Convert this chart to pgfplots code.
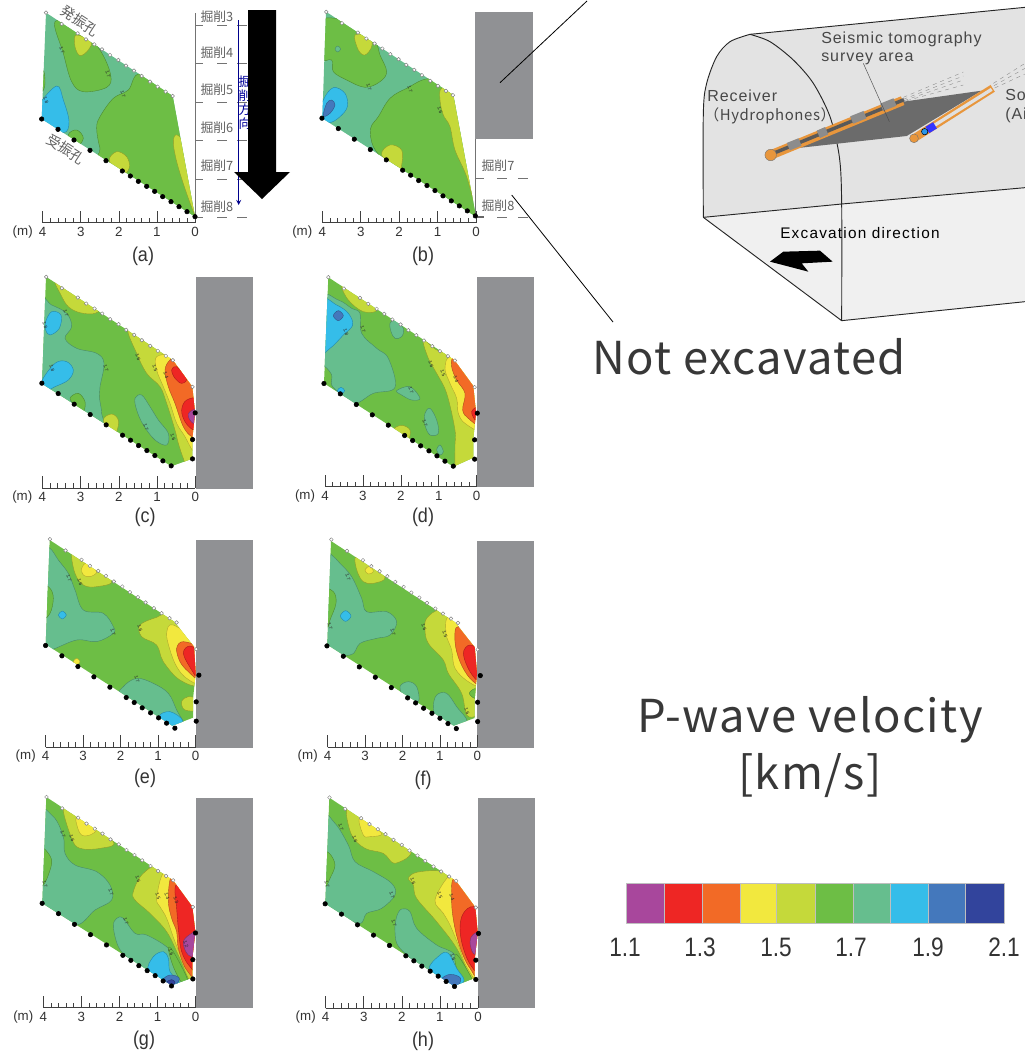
\documentclass[border=0pt]{standalone}
\usepackage{fontspec}
\usepackage{xfp}
\usepackage{pgfplots}
\usepackage{pgfplotstable}
\pgfplotsset{compat=1.18}
\setmainfont{Liberation Sans}
\newfontfamily\cjk{Noto Sans CJK JP}
\newfontfamily\cjkw[LetterSpace=3]{Noto Sans CJK JP}
\newfontfamily\cjkh[LetterSpace=4]{Noto Sans CJK JP}
\newfontfamily\dsans[LetterSpace=6]{Liberation Sans}
\newfontfamily\dsanb[LetterSpace=8]{Liberation Sans}
\definecolor{cP}{HTML}{A8479C}
\definecolor{cR}{HTML}{EE2624}
\definecolor{cO}{HTML}{F26A26}
\definecolor{cY}{HTML}{F2E83E}
\definecolor{cL}{HTML}{C5D93A}
\definecolor{cG}{HTML}{6DBE45}
\definecolor{cT}{HTML}{66BE8E}
\definecolor{cC}{HTML}{35BDE9}
\definecolor{cB}{HTML}{4478BC}
\definecolor{cN}{HTML}{32449C}
\definecolor{grayblock}{HTML}{909194}
\pgfplotstableread{
x y
138 38
185 72
233 100
258 118
283 133
306 148
330 165
355 180
378 197
402 212
425 228
450 245
473 260
497 275
518 288
}\openA
\pgfplotstableread{
x y
138 38
185 72
233 100
258 118
283 133
306 148
330 165
355 180
378 197
402 212
425 228
450 245
473 260
497 275
518 288
577 368
}\openC
\pgfplotstableread{
x y
125 357
174 388
222 420
270 451
318 482
367 513
391 528
415 544
440 559
464 574
488 590
513 605
537 620
561 635
585 650
}\closedA
\pgfplotstableread{
x y
125 357
174 388
222 420
270 451
318 482
367 513
391 528
415 544
440 559
464 574
488 590
513 605
585 446
577 526
577 584
}\closedC
\def\ox{0}\def\oy{0}
\newcommand\crop[2]{\def\ox{#1}\def\oy{#2}}
\pgfplotsset{cropped/.style={x filter/.expression={x/3+\ox},y filter/.expression={y/3+\oy}}}
% smooth contour region, in crop coordinates
\newcommand\reg[2]{\addplot[cropped,smooth cycle,tension=.6,fill=#1,draw=#1!72!black,line width=.3pt] coordinates {#2};}
% straight polygon, in crop coordinates
\newcommand\poly[3][draw=none]{\addplot[cropped,fill=#2,#1] coordinates {#3} -- cycle;}
\newcommand\lin[2][]{\addplot[cropped,#1] coordinates {#2};}
% rectangle in picture pixels
\newcommand\rect[6][draw=none]{\addplot[fill=#2,#1] coordinates {(#3,#4)(#5,#4)(#5,#6)(#3,#6)} -- cycle;}
\newcommand\sensors[4]{%
 \addplot[only marks,mark=*,mark size=1.4pt,mark options={fill=white,draw=black!50,line width=.35pt}] table[x expr=\thisrow{x}/3+#1,y expr=\thisrow{y}/3+#2] {#4};
 \addplot[only marks,mark=*,mark size=1.7pt,mark options={fill=black,draw=black}] table[x expr=\thisrow{x}/3+#1,y expr=\thisrow{y}/3+#2] {#3};}
\newcommand\cl[3]{\node[font=\fontsize{3.6}{4}\selectfont,text=black!85,inner sep=0pt,rotate=-70] at (axis cs:#1,#2) {#3};}
\newcommand\scalebar[4]{% x of 4, x of 0, y
 \def\ticks{}%
 \pgfplotsforeachungrouped \i in {0,...,20}{%
  \edef\ticks{\ticks (\fpeval{#1+\i*(#2-#1)/20},#3)(\fpeval{#1+\i*(#2-#1)/20},\fpeval{#3-((\i/5==trunc(\i/5))?12:5)})(\fpeval{#1+\i*(#2-#1)/20},nan)}}%
 \edef\temp{\noexpand\addplot[black!75,line width=.45pt,unbounded coords=jump] coordinates {(#1,#3)(#2,#3)(#1,nan) \ticks};
 \noexpand\node[scl] at (axis cs:#1,\fpeval{#3+9}) {4};
 \noexpand\node[scl] at (axis cs:\fpeval{#1+(#2-#1)/4},\fpeval{#3+9}) {3};
 \noexpand\node[scl] at (axis cs:\fpeval{#1+(#2-#1)/2},\fpeval{#3+9}) {2};
 \noexpand\node[scl] at (axis cs:\fpeval{#1+3*(#2-#1)/4},\fpeval{#3+9}) {1};
 \noexpand\node[scl] at (axis cs:#2,\fpeval{#3+9}) {0};
 \noexpand\node[scl] at (axis cs:\fpeval{#1-20},\fpeval{#3+9}) {(m)};
 }\temp}
\begin{document}
\begin{tikzpicture}[
 scl/.style={font=\fontsize{10}{10}\selectfont,text=black!80,inner sep=0pt},
 let/.style={font=\fontsize{15}{16}\selectfont,text=black!80,inner sep=0pt,xscale=.9},
 kut/.style={font=\cjk\fontsize{9.6}{10}\selectfont,text=black!62,inner sep=0pt},
 dia/.style={font=\dsans\fontsize{12}{13}\selectfont,text=black!72,inner sep=0pt,anchor=west},
 cbl/.style={font=\fontsize{20}{21}\selectfont,text=black!80,inner sep=0pt,xscale=.85,anchor=base},
 ]
\begin{axis}[scale only axis,width=768.75pt,height=790.5pt,axis lines=none,
 xmin=0,xmax=1025,ymin=0,ymax=1054,y dir=reverse,
 every axis plot/.append style={mark=none},line join=round]
\path (axis cs:0,0) -- (axis cs:1025,1054);

%% ---------- panel a
\begin{scope}
\clip (axis cs:46,12.7)--(axis cs:172.7,96)--(axis cs:195,216.7)--(axis cs:41.7,119)--cycle;
\crop{0}{0}
\rect{cT}{30}{5}{200}{225}
\reg{cG}{(165,65)(240,85)(300,150)(332,225)(320,262)(250,275)(215,245)(190,160)}
\reg{cG}{(420,222)(385,270)(340,295)(300,350)(290,385)(300,445)(320,500)(590,680)(640,500)(525,280)}
\reg{cG}{(118,210)(132,215)(134,260)(118,280)}
\reg{cG}{(205,405)(230,390)(250,415)(225,445)}
\reg{cC}{(118,315)(170,258)(190,300)(207,365)(190,398)(118,365)}
\reg{cL}{(228,105)(272,125)(265,150)(240,167)(225,140)}
\reg{cL}{(328,482)(350,455)(380,470)(388,503)(365,525)}
\reg{cL}{(532,405)(520,430)(540,520)(590,655)(600,600)(560,450)}
\end{scope}
\sensors{0}{0}{\closedA}{\openA}
\cl{62}{50}{1.7}\cl{108}{74}{1.7}\cl{123}{94}{1.7}\cl{46}{100}{1.8}
%% ---------- panel b
\begin{scope}
\clip (axis cs:326,11.7)--(axis cs:453.3,95)--(axis cs:476,216.7)--(axis cs:322.3,118.3)--cycle;
\crop{290}{0}
\rect{cT}{310}{5}{480}{225}
\reg{cG}{(90,175)(125,180)(130,215)(170,240)(225,262)(270,245)(290,215)(270,165)(255,125)(200,88)(135,55)(90,70)}
\reg{cT}{(135,147)(143,138)(152,147)(143,156)}
\reg{cG}{(420,236)(350,265)(300,295)(265,350)(242,385)(250,440)(290,490)(330,530)(560,680)(600,400)(510,270)}
\reg{cC}{(85,365)(100,300)(130,263)(165,280)(172,320)(150,350)(120,368)}
\reg{cB}{(100,348)(110,310)(125,300)(135,315)(120,340)}
\reg{cL}{(455,265)(500,280)(565,650)(530,530)(495,450)(480,380)(460,345)(450,300)}
\reg{cL}{(275,465)(300,435)(335,450)(335,495)(325,510)}
\reg{cL}{(195,105)(240,110)(245,140)(225,165)(205,150)}
\end{scope}
\sensors{280.3}{-0.8}{\closedA}{\openA}
\cl{369}{87}{1.7}\cl{410}{89}{1.7}\cl{440}{110}{1.6}
%% ---------- panel c
\begin{scope}
\clip (axis cs:46,276.7)--(axis cs:172.7,360)--(axis cs:192.3,386.7)--(axis cs:195,412.7)--(axis cs:192.3,439.3)--(axis cs:192.3,458.7)--(axis cs:171.3,466.3)--(axis cs:42,383.7)--cycle;
\crop{0}{270}
\rect{cG}{30}{270}{200}{475}
\reg{cL}{(165,30)(183,75)(205,110)(240,128)(285,130)(300,105)(220,50)}
\reg{cT}{(110,88)(155,105)(200,130)(215,170)(195,205)(230,235)(290,250)(312,280)(300,350)(298,380)(305,430)(300,470)(110,350)}
\reg{cG}{(210,385)(235,370)(255,395)(250,425)(230,410)}
\reg{cC}{(137,155)(155,125)(183,135)(178,175)(150,195)(137,180)}
\reg{cC}{(125,335)(165,280)(200,275)(220,300)(205,330)(165,350)(140,360)}
\reg{cT}{(405,385)(425,375)(450,410)(475,450)(505,490)(500,525)(465,510)(430,465)(410,420)}
\reg{cL}{(310,450)(335,432)(355,450)(350,485)(335,495)}
\reg{cL}{(385,180)(410,250)(440,310)(480,350)(500,400)(525,480)(535,520)(550,565)(560,578)(610,575)(610,300)(450,215)}
\reg{cY}{(470,260)(520,262)(600,340)(600,555)(580,545)(555,500)(530,460)(510,400)(490,350)(470,300)}
\reg{cO}{(495,300)(510,270)(530,270)(600,350)(600,505)(575,500)(550,470)(525,400)(505,350)}
\reg{cR}{(515,300)(530,290)(560,325)(545,340)(525,325)}
\reg{cR}{(600,390)(560,390)(545,420)(555,455)(580,480)(600,475)}
\reg{cP}{(600,415)(570,425)(565,440)(580,460)(600,450)}
\end{scope}
\sensors{0.2}{264.2}{\closedC}{\openC}
\cl{66}{313}{1.7}\cl{45}{325}{1.8}\cl{52}{368}{1.8}\cl{106}{368}{1.7}\cl{138}{357}{1.6}\cl{155}{368}{1.5}\cl{166}{375}{1.4}\cl{146}{427}{1.7}\cl{173}{437}{1.6}
%% ---------- panel d
\begin{scope}
\clip (axis cs:328.3,277.3)--(axis cs:454.3,360)--(axis cs:473.3,386)--(axis cs:476,412.7)--(axis cs:473.3,438.7)--(axis cs:473.3,457.7)--(axis cs:453.3,466.7)--(axis cs:324,383.3)--cycle;
\crop{280}{270}
\rect{cG}{310}{270}{480}{475}
\reg{cL}{(185,45)(205,90)(250,125)(290,118)(230,60)}
\reg{cT}{(120,85)(175,90)(215,115)(240,130)(245,190)(290,235)(325,265)(345,352)(280,370)(225,400)(180,370)(155,345)(155,315)(135,290)(115,285)}
\reg{cC}{(120,90)(170,105)(205,130)(218,165)(190,195)(150,235)(120,242)}
\reg{cB}{(160,137)(175,122)(190,137)(175,152)}
\reg{cC}{(172,362)(183,352)(194,362)(183,372)}
\reg{cT}{(330,160)(345,150)(370,175)(365,200)(345,205)(333,185)}
\reg{cT}{(350,362)(390,350)(420,385)(395,390)(365,375)}
\reg{cT}{(435,430)(450,415)(470,450)(475,490)(450,495)(435,465)}
\reg{cT}{(470,540)(480,525)(490,545)(480,555)}
\reg{cL}{(430,210)(470,240)(525,262)(610,350)(610,560)(580,570)(530,600)(525,530)(525,480)(500,370)(470,310)(445,265)}
\reg{cL}{(340,480)(365,466)(390,480)(385,510)(370,505)}
\reg{cY}{(495,295)(515,262)(600,340)(600,472)(555,460)(535,430)(530,385)(510,340)}
\reg{cO}{(515,290)(525,268)(600,350)(600,460)(565,445)(548,420)(555,370)(530,330)}
\reg{cR}{(600,408)(575,425)(590,455)(605,440)}
\end{scope}
\sensors{282.3}{264.5}{\closedC}{\openC}
\cl{346}{332}{1.8}\cl{363}{329}{1.7}\cl{431}{364}{1.6}\cl{443}{373}{1.5}\cl{456}{379}{1.4}\cl{411}{390}{1.7}\cl{425}{423}{1.7}
%% ---------- panel e
\begin{scope}
\clip (axis cs:49.7,540)--(axis cs:174.3,621.7)--(axis cs:194,646.7)--(axis cs:195.7,673.3)--(axis cs:193,699)--(axis cs:193,717.7)--(axis cs:172.3,725.7)--(axis cs:45.7,644.3)--cycle;
\crop{0}{530}
\rect{cG}{35}{535}{200}{735}
\reg{cT}{(150,55)(175,90)(205,130)(225,180)(250,240)(310,250)(340,290)(340,310)(290,335)(230,330)(150,360)(115,350)(120,50)}
\reg{cG}{(125,170)(150,175)(160,205)(150,250)(125,265)}
\reg{cC}{(175,255)(187,243)(199,255)(187,267)}
\reg{cL}{(215,70)(240,80)(335,150)(290,170)(250,165)(225,130)}
\reg{cY}{(245,115)(260,100)(290,125)(270,140)(250,135)}
\reg{cY}{(220,395)(230,385)(240,395)(230,405)}
\reg{cT}{(365,500)(370,470)(410,445)(460,460)(505,490)(530,540)(555,595)(480,575)}
\reg{cC}{(478,560)(510,545)(548,572)(520,600)}
\reg{cL}{(420,285)(470,262)(510,255)(600,340)(600,460)(540,450)(490,395)(470,345)(425,320)}
\reg{cY}{(500,310)(520,285)(600,350)(600,455)(560,445)(530,410)(510,360)}
\reg{cO}{(530,355)(550,335)(600,360)(600,447)(565,425)(540,395)}
\reg{cR}{(550,370)(570,348)(600,375)(600,450)(575,420)}
\reg{cL}{(545,515)(565,500)(600,510)(600,540)(555,540)}
\end{scope}
\sensors{3.9}{526.5}{\closedC}{\openC}
\cl{69}{578}{1.7}\cl{80}{582}{1.6}\cl{140}{628}{1.6}\cl{113}{632}{1.7}\cl{137}{679}{1.7}
%% ---------- panel f
\begin{scope}
\clip (axis cs:331,541)--(axis cs:455,622.3)--(axis cs:474.7,647.3)--(axis cs:477,673.3)--(axis cs:474.7,699.3)--(axis cs:474.7,718)--(axis cs:453.7,725.7)--(axis cs:327.3,644.7)--cycle;
\crop{280}{530}
\rect{cG}{315}{535}{480}{735}
\reg{cT}{(155,75)(180,100)(215,140)(245,205)(260,245)(320,245)(350,275)(330,315)(290,325)(240,340)(210,375)(125,345)(125,60)}
\reg{cG}{(125,180)(160,185)(168,220)(150,270)(145,290)(125,285)}
\reg{cC}{(181,258)(197,242)(213,258)(197,274)}
\reg{cL}{(225,85)(245,80)(315,140)(280,160)(250,155)(232,125)}
\reg{cY}{(255,120)(270,108)(280,125)(265,132)}
\reg{cL}{(440,265)(480,240)(530,270)(600,350)(600,510)(590,555)(560,555)(545,490)(505,430)(490,390)(445,340)(435,300)}
\reg{cY}{(498,310)(510,262)(600,350)(600,460)(565,455)(525,415)(515,360)}
\reg{cO}{(525,335)(535,290)(600,355)(600,457)(570,445)(540,395)}
\reg{cR}{(550,370)(570,345)(600,370)(600,452)(570,425)}
\reg{cG}{(568,490)(585,476)(600,490)(585,505)}
\reg{cT}{(360,470)(385,455)(410,470)(415,515)(375,505)}
\reg{cT}{(460,530)(470,495)(500,490)(530,530)(562,577)(520,605)(470,565)}
\end{scope}
\sensors{285.3}{526.9}{\closedC}{\openC}
\cl{348}{577}{1.7}\cl{424}{627}{1.6}\cl{445}{634}{1.5}\cl{393}{632}{1.7}\cl{330}{626}{1.7}\cl{467}{711}{1.6}
%% ---------- panel g
\begin{scope}
\clip (axis cs:46.3,797)--(axis cs:173,880.3)--(axis cs:192.3,906.7)--(axis cs:195.3,931.7)--(axis cs:192.3,958.7)--(axis cs:192.3,977.7)--(axis cs:171.7,985.3)--(axis cs:42.3,903.3)--cycle;
\crop{0}{785}
\rect{cG}{30}{790}{200}{995}
\reg{cT}{(110,85)(160,95)(190,155)(195,205)(225,240)(290,260)(330,300)(335,345)(285,375)(225,420)(127,365)(110,345)}
\reg{cG}{(118,190)(132,190)(155,225)(145,270)(130,300)(118,300)}
\reg{cL}{(190,70)(235,95)(340,170)(300,190)(240,190)(215,160)}
\reg{cY}{(232,98)(288,130)(270,150)(245,150)(232,125)}
\reg{cT}{(340,425)(350,400)(370,400)(405,445)(440,450)(505,490)(530,540)(565,595)(510,615)(440,560)(385,520)(355,485)}
\reg{cL}{(400,320)(425,270)(475,240)(525,280)(600,400)(600,595)(572,592)(535,510)(500,440)(450,385)(405,345)}
\reg{cG}{(505,490)(520,500)(562,582)(548,596)(520,545)}
\reg{cY}{(470,340)(490,265)(530,285)(600,400)(600,585)(552,530)(525,470)(500,400)(480,365)}
\reg{cO}{(505,350)(510,285)(525,280)(600,370)(600,575)(560,555)(535,490)(530,440)(515,400)}
\reg{cR}{(530,370)(525,310)(540,305)(600,370)(600,560)(570,545)(545,500)(535,430)}
\reg{cP}{(550,470)(575,445)(600,438)(600,510)(565,510)}
\reg{cC}{(445,560)(460,515)(490,500)(505,520)(510,560)(540,600)(500,615)}
\reg{cB}{(490,585)(510,570)(537,578)(530,597)(510,608)}
\reg{cN}{(500,592)(515,584)(525,592)(515,604)}
\end{scope}
\sensors{0.5}{784.3}{\closedC}{\openC}
\cl{63}{834}{1.7}\cl{72}{838}{1.6}\cl{138}{879}{1.6}\cl{111}{892}{1.7}\cl{158}{896}{1.5}\cl{167}{896}{1.4}\cl{176}{900}{1.3}\cl{126}{921}{1.7}\cl{171}{952}{1.6}\cl{186}{944}{1.2}\cl{45}{884}{1.7}
%% ---------- panel h
\begin{scope}
\clip (axis cs:329.3,797.7)--(axis cs:456,881)--(axis cs:475.3,907.3)--(axis cs:477.7,932.7)--(axis cs:474.7,959)--(axis cs:474.7,978)--(axis cs:454,986)--(axis cs:325.3,903.7)--cycle;
\crop{280}{785}
\rect{cG}{315}{790}{480}{995}
\reg{cT}{(125,100)(165,115)(205,180)(225,230)(280,260)(335,295)(345,330)(305,370)(260,385)(235,415)(136,366)(120,345)}
\reg{cG}{(125,205)(148,205)(165,240)(150,280)(137,305)(125,300)}
\reg{cL}{(200,75)(240,95)(390,190)(345,235)(310,205)(255,190)(215,150)}
\reg{cY}{(240,100)(305,145)(270,155)(250,150)}
\reg{cT}{(350,395)(365,372)(390,380)(410,430)(470,480)(525,510)(565,595)(520,615)(450,565)(360,490)(345,440)}
\reg{cL}{(385,280)(410,262)(480,258)(530,280)(610,400)(610,595)(578,588)(530,490)(470,410)(410,340)(400,300)}
\reg{cG}{(525,510)(540,520)(578,588)(558,598)(530,550)}
\reg{cY}{(465,345)(505,275)(530,285)(610,420)(600,585)(560,545)(535,480)(510,420)(490,385)}
\reg{cO}{(515,350)(525,280)(600,370)(600,572)(570,550)(545,500)(525,430)}
\reg{cR}{(540,430)(550,385)(580,365)(610,400)(610,565)(575,545)(550,490)}
\reg{cP}{(570,470)(580,448)(605,445)(605,505)(580,505)}
\reg{cC}{(448,555)(480,510)(505,505)(530,550)(552,588)(510,605)}
\reg{cB}{(485,585)(510,568)(542,580)(525,610)}
\end{scope}
\sensors{283.5}{784.8}{\closedC}{\openC}
\cl{341}{827}{1.7}\cl{355}{839}{1.6}\cl{413}{881}{1.6}\cl{392}{895}{1.7}\cl{440}{895}{1.5}\cl{452}{897}{1.4}\cl{394}{923}{1.7}\cl{453}{957}{1.6}\cl{327}{884}{1.7}

%% ---------- grey blocks
\rect{grayblock}{475.3}{11.7}{533}{139.3}
\rect{grayblock}{195.7}{277}{253}{488.5}
\rect{grayblock}{476.5}{277.3}{534}{487}
\rect{grayblock}{195.7}{540}{253}{748}
\rect{grayblock}{477}{541}{534}{748}
\rect{grayblock}{195.7}{798}{253}{1008}
\rect{grayblock}{477.7}{798.3}{535}{1008}

%% ---------- scale bars
\scalebar{42.7}{195}{222.7}{}
\scalebar{322.3}{476}{222.7}{}
\scalebar{42.3}{195.3}{488.3}{}
\scalebar{325}{476.7}{486.7}{}
\scalebar{45.7}{195.7}{747}{}
\scalebar{327.7}{477.3}{747.3}{}
\scalebar{43.3}{195.7}{1007.7}{}
\scalebar{325.7}{478}{1008.3}{}
\node[let] at (axis cs:143,256) {(a)};
\node[let] at (axis cs:423,256) {(b)};
\node[let] at (axis cs:145,517) {(c)};
\node[let] at (axis cs:423,517) {(d)};
\node[let] at (axis cs:145,778) {(e)};
\node[let] at (axis cs:423,780) {(f)};
\node[let] at (axis cs:144,1040) {(g)};
\node[let] at (axis cs:423,1041) {(h)};

%% ---------- excavation steps, panel a and b
\addplot[black!55,line width=.5pt] coordinates {(195,13)(195,217)};
\addplot[black!55,line width=.5pt,unbounded coords=jump] coordinates {(195,25.7)(203,25.7)(0,nan)(217,25.7)(227,25.7)(0,nan)(237,25.7)(247,25.7)(0,nan)
 (195,63.7)(203,63.7)(0,nan)(217,63.7)(227,63.7)(0,nan)(237,63.7)(247,63.7)(0,nan)
 (195,102)(203,102)(0,nan)(217,102)(227,102)(0,nan)(237,102)(247,102)(0,nan)
 (195,140.7)(203,140.7)(0,nan)(217,140.7)(227,140.7)(0,nan)(237,140.7)(247,140.7)(0,nan)
 (195,179)(203,179)(0,nan)(217,179)(227,179)(0,nan)(237,179)(247,179)(0,nan)
 (195,217)(203,217)(0,nan)(217,217)(227,217)(0,nan)(237,217)(247,217)};
\addplot[black!55,line width=.5pt] coordinates {(475.3,139)(475.3,217)};
\addplot[black!55,line width=.6pt,unbounded coords=jump] coordinates {(475.3,178)(484,178)(0,nan)(497,178)(507,178)(0,nan)(518,178)(528,178)(0,nan)
 (475.3,217)(484,217)(0,nan)(497,217)(507,217)(0,nan)(518,217)(528,217)};
\addplot[black!60,line width=.9pt] coordinates {(475.3,217)(484,217)};
\addplot[blue!55!black,line width=.7pt,->,>=stealth] coordinates {(238.7,20)(238.7,205)};
\node[font=\cjk\fontsize{9.5}{10.5}\selectfont,text=blue!60!black,inner sep=0pt,align=center] at (axis cs:245,103) {掘\\削\\方\\向};
\node[kut] at (axis cs:217,17) {掘削3};
\node[kut] at (axis cs:217,53) {掘削4};
\node[kut] at (axis cs:217,90) {掘削5};
\node[kut] at (axis cs:217,128) {掘削6};
\node[kut] at (axis cs:217,166) {掘削7};
\node[kut] at (axis cs:217,207) {掘削8};
\node[kut] at (axis cs:498,166) {掘削7};
\node[kut] at (axis cs:498,206) {掘削8};
\node[kut,rotate=-33,font=\cjk\fontsize{10.5}{11}\selectfont] at (axis cs:80,21) {発振孔};
\node[kut,rotate=-33,font=\cjk\fontsize{10.5}{11}\selectfont] at (axis cs:66,149) {受振孔};
%% big arrow
\addplot[fill=black,draw=none] coordinates {(248,10)(276,10)(276,172)(290,172)(262,199)(234,172)(248,172)} -- cycle;
%% annotation lines
\addplot[black,line width=.6pt] coordinates {(500,82.7)(587,1)};
\addplot[black,line width=.6pt] coordinates {(511.7,195)(613,322)};

%% ---------- tunnel sketch
\crop{680}{0}
\poly{black!11}{(70,652)(70,340)(75,280)(90,215)(115,165)(150,125)(210,103)(1035,22)(1035,563)(485,612)}
\poly{black!6}{(70,652)(485,612)(1035,563)(1035,905)(485,962)}
\lin[black!85,line width=.7pt]{(210,103)(1035,22)}
\lin[black!85,line width=.7pt]{(70,652)(485,612)(1035,563)}
\lin[black!85,line width=.7pt]{(70,652)(485,962)(1035,905)}
\lin[black!85,line width=.7pt,smooth]{(70,652)(70,340)(80,250)(110,170)(150,125)(210,103)}
\lin[black!85,line width=.7pt,smooth]{(210,103)(270,125)(340,180)(400,250)(450,350)(478,470)(485,610)(485,962)}
% survey plane
\poly{black!58}{(345,445)(670,305)(905,272)(680,408)}
% receiver tube
\lin[draw={rgb,255:red,232;green,150;blue,60},line width=7pt]{(272,465)(668,302)}
\lin[black!65,line width=2.6pt]{(285,458)(672,299)}
\lin[black!45,line width=6pt]{(325,440)(360,426)}
\lin[black!45,line width=6pt]{(415,403)(440,392)}
\lin[black!45,line width=6pt]{(515,360)(555,344)}
\lin[black!45,line width=6pt]{(605,322)(645,306)}
\addplot[cropped,only marks,mark=*,mark size=4.3pt,mark options={fill={rgb,255:red,232;green,150;blue,60},draw=black!55,line width=.3pt}] coordinates {(272,465)};
% source tube
\lin[draw={rgb,255:red,232;green,150;blue,60},line width=6pt]{(702,415)(938,265)}
\lin[black!12,line width=2.5pt]{(725,400)(935,268)}
\lin[draw=blue!80,line width=5.5pt]{(742,390)(765,376)}
\addplot[cropped,only marks,mark=*,mark size=3.3pt,mark options={fill={rgb,255:red,232;green,150;blue,60},draw=black!55,line width=.3pt}] coordinates {(702,415)};
\addplot[cropped,only marks,mark=*,mark size=2.4pt,mark options={fill=cC!80!blue,draw=none}] coordinates {(734,395)};
% borehole extensions
\lin[black!45,dashed,line width=.3pt]{(670,292)(850,216)}
\lin[black!45,dashed,line width=.3pt]{(670,298)(850,228)}
\lin[black!45,dashed,line width=.3pt]{(672,302)(850,240)}
\lin[black!45,dashed,line width=.3pt]{(680,302)(850,255)}
\lin[black!45,dashed,line width=.3pt]{(940,250)(1035,190)}
\lin[black!45,dashed,line width=.3pt]{(942,257)(1035,205)}
\lin[black!45,dashed,line width=.3pt]{(944,264)(1035,222)}
% leader
\lin[black!70,line width=.35pt]{(550,190)(628,365)}
% direction arrow
\poly{black}{(270,785)(310,755)(420,752)(458,785)(365,790)(385,815)}
\node[dia] at (axis cs:821,39) {Seismic tomography};
\node[dia] at (axis cs:821,59) {survey area};
\node[dia] at (axis cs:707,96) {Receiver};
\node[dia,font=\cjkh\fontsize{11.2}{12}\selectfont] at (axis cs:704,116) {（Hydrophones）};
\node[dia] at (axis cs:1005,95) {So};
\node[dia] at (axis cs:1005,115) {(Ai};
\node[dia,text=black,font=\dsanb\fontsize{11.5}{12}\selectfont] at (axis cs:780,233) {Excavation direction};

%% ---------- big text
\node[font=\cjkw\fontsize{34}{36}\selectfont,text=black!78,inner sep=0pt] at (axis cs:749,357) {Not excavated};
\node[font=\cjkw\fontsize{34}{36}\selectfont,text=black!78,inner sep=0pt] at (axis cs:810,720) {P-wave velocity};
\node[font=\cjkw\fontsize{34}{36}\selectfont,text=black!78,inner sep=0pt] at (axis cs:810,776) {[km/s]};

%% ---------- colour bar
\rect[draw=black!25,line width=.3pt]{cP}{626}{882.7}{663.7}{923.3}
\rect[draw=black!25,line width=.3pt]{cR}{663.7}{882.7}{702}{923.3}
\rect[draw=black!25,line width=.3pt]{cO}{702}{882.7}{739.7}{923.3}
\rect[draw=black!25,line width=.3pt]{cY}{739.7}{882.7}{776.5}{923.3}
\rect[draw=black!25,line width=.3pt]{cL}{776.5}{882.7}{815}{923.3}
\rect[draw=black!25,line width=.3pt]{cG}{815}{882.7}{853}{923.3}
\rect[draw=black!25,line width=.3pt]{cT}{853}{882.7}{890}{923.3}
\rect[draw=black!25,line width=.3pt]{cC}{890}{882.7}{927.7}{923.3}
\rect[draw=black!25,line width=.3pt]{cB}{927.7}{882.7}{965}{923.3}
\rect[draw=black!25,line width=.3pt]{cN}{965}{882.7}{1004}{923.3}
\node[cbl] at (axis cs:625,956) {1.1};
\node[cbl] at (axis cs:700,956) {1.3};
\node[cbl] at (axis cs:776,956) {1.5};
\node[cbl] at (axis cs:851,956) {1.7};
\node[cbl] at (axis cs:928,956) {1.9};
\node[cbl] at (axis cs:1004,956) {2.1};
\end{axis}
\end{tikzpicture}
\end{document}
